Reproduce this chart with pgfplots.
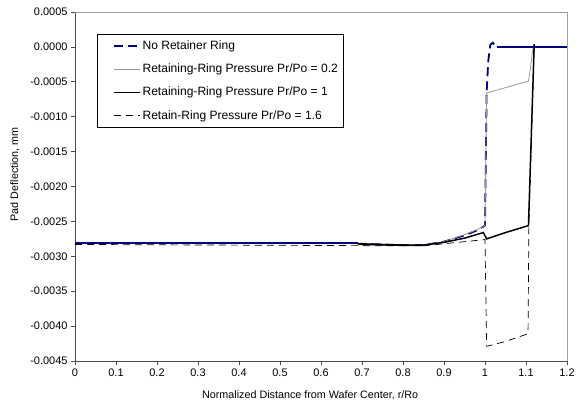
\documentclass[border=0pt]{standalone}
\usepackage{fontspec}
\setmainfont{Liberation Sans}
\usepackage{pgfplots}
\pgfplotsset{compat=1.18}
\definecolor{navyline}{RGB}{0,0,128}
\definecolor{grayline}{RGB}{150,150,150}
\definecolor{frame}{RGB}{160,160,160}
\begin{document}
\begin{tikzpicture}
\begin{axis}[
  scale only axis, width=492bp, height=349bp,
  xmin=0, xmax=1.2, ymin=-0.0045, ymax=0.0005,
  xtick={0,0.1,...,1.2},
  ytick={-0.0045,-0.004,...,0.0005},
  axis lines*=left,
  axis line style={draw=black!70, line width=0.8pt},
  tick align=outside, major tick length=4bp,
  tick style={black!70, line width=0.8pt},
  /pgf/number format/assume math mode=true,
  xticklabel style={font=\fontsize{11}{13}\selectfont},
  yticklabel style={font=\fontsize{11}{13}\selectfont, /pgf/number format/.cd, fixed, fixed zerofill, precision=4},
  scaled y ticks=false,
  xticklabel={\pgfmathprintnumber[fixed,precision=1]{\tick}},
  label style={font=\fontsize{10.8}{13}\selectfont},
  xlabel={Normalized Distance from Wafer Center, r/Ro},
  ylabel={Pad Deflection, mm},
  xlabel style={at={(axis description cs:0.478,-0.097)}, anchor=center},
  ylabel style={at={(axis description cs:-0.122,0.535)}, anchor=center},
  clip=false,
  legend style={at={(axis description cs:0.0447,0.937)}, anchor=north west,
    draw=black, line width=0.6pt, font=\fontsize{12.1}{14}\selectfont,
    inner xsep=4bp, inner ysep=4.5bp, row sep=9bp,
    nodes={inner xsep=1.5bp}},
  legend cell align=left,
  legend image code/.code={\path (0bp,0bp) (38bp,0bp); \draw[#1] (12bp,0bp) -- (38bp,0bp);},
]
\draw[frame, line width=0.7pt] (rel axis cs:0,1) -- (rel axis cs:1,1) -- (rel axis cs:1,0);
% No retainer ring
\addplot[navyline, line width=1.8pt, dash pattern=on 9bp off 5bp] coordinates {
(0.69,-0.00282) (0.8,-0.00284) (0.85,-0.00284) (0.9,-0.00279) (0.95,-0.00270)
(0.98,-0.00263) (1.0,-0.00256) (1.004,-0.00065) (1.008,-0.00020)
(1.013,0.00003) (1.019,0.00006) (1.025,0.00002) (1.03,0.0) };
\addlegendentry{No Retainer Ring}
% Pr/Po = 0.2
\addplot[grayline, line width=0.8pt] coordinates {
(0.69,-0.00282) (0.8,-0.00284) (0.85,-0.00284) (0.9,-0.00279) (0.95,-0.00269)
(0.98,-0.00262) (1.0,-0.00256) (1.004,-0.00066) (1.106,-0.00049)
(1.111,-0.00030) (1.115,-0.00010) (1.118,0.0) };
\addlegendentry{Retaining-Ring Pressure Pr/Po = 0.2}
% Pr/Po = 1
\addplot[black, line width=1.5pt] coordinates {
(0.69,-0.00282) (0.8,-0.00284) (0.85,-0.00284) (0.9,-0.00280) (0.95,-0.00274)
(0.996,-0.00266) (1.004,-0.00275) (1.05,-0.00266) (1.106,-0.00256)
(1.12,0.00004) };
\addlegendentry{Retaining-Ring Pressure Pr/Po = 1}
% Pr/Po = 1.6
\addplot[black, line width=0.7pt, dash pattern=on 7bp off 5bp] coordinates {
(0,-0.00283) (0.8,-0.00285) (0.85,-0.00285) (0.9,-0.00282) (0.95,-0.00279)
(1.0,-0.00276) (1.004,-0.00429) (1.05,-0.00422) (1.105,-0.00411)
(1.107,-0.00257) (1.12,0.00004) };
\addlegendentry{Retain-Ring Pressure Pr/Po = 1.6}
% solid-looking portions of the No Retainer Ring curve
\addplot[navyline, line width=1.8pt, forget plot] coordinates {
(0,-0.00281) (0.69,-0.00281) };
\addplot[navyline, line width=1.8pt, forget plot] coordinates {
(1.03,0.0) (1.04,0.0) (1.2,0.0) };
\addplot[black, line width=1.5pt, forget plot] coordinates {
(0.69,-0.00283) (0.8,-0.00284) };
\end{axis}
\pgfresetboundingbox
\path[use as bounding box] (-75bp,-43bp) rectangle (506bp,361bp);
\end{tikzpicture}
\end{document}
